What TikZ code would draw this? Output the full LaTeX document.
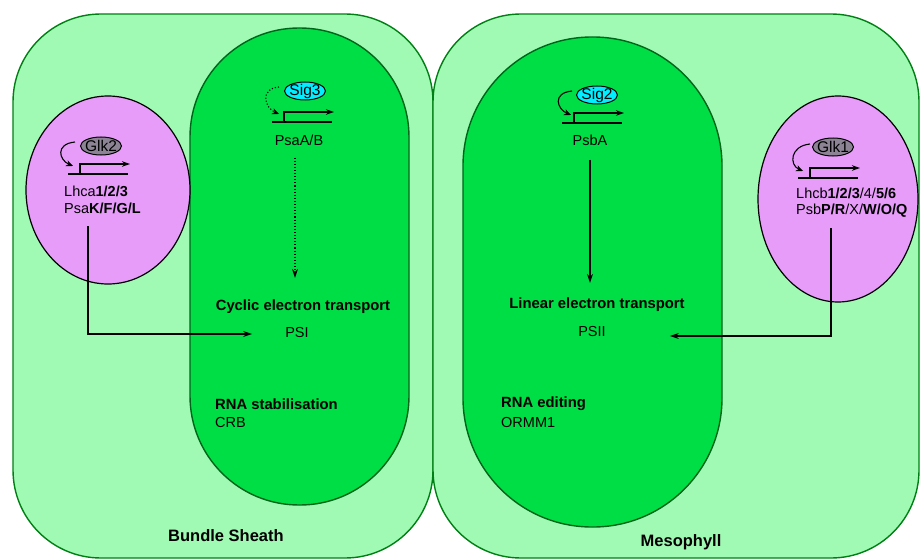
\documentclass[tikz,border=0pt]{standalone}
\usepackage{fontspec}
\setmainfont{Liberation Sans}
\usetikzlibrary{arrows.meta,calc,shapes.geometric}
\definecolor{cellfill}{RGB}{160,250,180}
\definecolor{cellline}{RGB}{0,128,20}
\definecolor{plfill}{RGB}{0,222,70}
\definecolor{plline}{RGB}{0,100,25}
\definecolor{nucfill}{RGB}{232,156,250}
\definecolor{glkfill}{RGB}{140,132,148}
\definecolor{sigfill}{RGB}{0,238,255}
\begin{document}
\begin{tikzpicture}[x=1pt,y=-1pt,
  cellbox/.style={draw=cellline,fill=cellfill,line width=1.4pt},
  plastid/.style={draw=plline,fill=plfill,line width=1.4pt},
  nucleus/.style={ellipse,draw=black,fill=nucfill,line width=1.2pt,inner sep=0pt},
  tf/.style={ellipse,draw=black,line width=1pt,inner sep=0pt,minimum width=41pt,minimum height=18pt,
             label={[font=\fontsize{15.5}{15}\selectfont,inner sep=0pt]center:#1}},
  txt/.style={inner sep=1pt,font=\fontsize{14.5}{16}\selectfont},
  btxt/.style={inner sep=1pt,font=\fontsize{14.8}{16}\selectfont\bfseries},
  ltxt/.style={inner sep=1pt,font=\fontsize{16.5}{18}\selectfont\bfseries},
  arr/.style={-{Stealth[length=9pt,width=6pt]},line width=1.1pt},
  carr/.style={-{Stealth[length=7pt,width=6pt]},line width=1.1pt},
  bent/.style={-{Stealth[length=8pt,width=5.5pt]},line width=1.3pt},
  baseline/.style={line width=1.6pt},
  promoter/.pic={\draw[baseline] (-12,0) -- (48,0); \draw[bent] (0,0) -- (0,-10) -- (50,-10);}
]
\useasboundingbox (0,0) rectangle (920,559);

% cells
\draw[cellbox,rounded corners=88pt] (13,14) rectangle (433,558);
\draw[cellbox,rounded corners=88pt] (433,14) rectangle (919,558);

% plastids
\draw[plastid,rounded corners=109pt] (190,28) rectangle (409,505);
\draw[plastid,rounded corners=129pt] (463,37) rectangle (722,527);

% nuclei
\node[nucleus,minimum width=164pt,minimum height=188pt] (nucL) at (108,190) {};
\node[nucleus,minimum width=160pt,minimum height=206pt] (nucR) at (838,199) {};

% transcription factors
\node[tf=Glk2,fill=glkfill] (glk2) at (101,146) {};
\node[tf=Sig3,fill=sigfill] (sig3) at (305,91) {};
\node[tf=Sig2,fill=sigfill] (sig2) at (597,95) {};
\node[tf=Glk1,fill=glkfill] (glk1) at (833,147) {};

% promoters
\coordinate (pg2) at (80,174);
\coordinate (ps3) at (284,122);
\coordinate (ps2) at (574,123);
\coordinate (pg1) at (810,178);
\pic at (pg2) {promoter};
\pic at (ps3) {promoter};
\pic at (ps2) {promoter};
\pic at (pg1) {promoter};

% autoregulation curves
\draw[carr] ($(glk2.west)+(-5,-4)$) .. controls +(-20,2) and +(-14,-6) .. ($(pg2)+(-7,-8)$);
\draw[carr,dotted] ($(sig3.west)+(-5,-4)$) .. controls +(-20,2) and +(-14,-6) .. ($(ps3)+(-5,-8)$);
\draw[carr] ($(sig2.west)+(-4,-4)$) .. controls +(-20,2) and +(-14,-6) .. ($(ps2)+(-3,-8)$);
\draw[carr] ($(glk1.west)+(-2,-3)$) .. controls +(-20,2) and +(-14,-6) .. ($(pg1)+(-7,-7)$);

% gene texts
\node[txt,anchor=west] (lhca) at (63,191) {Lhca\textbf{1/2/3}};
\node[txt,anchor=west] (psak) at (63,208) {Psa\textbf{K/F/G/L}};
\node[txt] (psaab) at (299,140) {PsaA/B};
\node[txt] (psba) at (590,140) {PsbA};
\node[txt,anchor=west] (lhcb) at (795,193) {Lhcb\textbf{1/2/3}/4/\textbf{5/6}};
\node[txt,anchor=west] (psbp) at (795,211) {Psb\textbf{P/R}/X/\textbf{W/O/Q}};

% processes
\node[btxt] (cyclic) at (303,307) {Cyclic electron transport};
\node[txt] (psi) at (297,333) {PSI};
\node[btxt] (linear) at (597,305) {Linear electron transport};
\node[txt] (psii) at (592,332) {PSII};
\node[btxt,anchor=west] (rnas) at (214,404) {RNA stabilisation};
\node[txt,anchor=west] (crb) at (214,423) {CRB};
\node[btxt,anchor=west] (rnae) at (500,404) {RNA editing};
\node[txt,anchor=west] (ormm) at (500,423) {ORMM1};

% cell labels
\node[ltxt] (bs) at (226,536) {Bundle Sheath};
\node[ltxt] (meso) at (681,542) {Mesophyll};

% connectors
\coordinate (gL) at (88,226);
\coordinate (gR) at (831,228);
\draw[arr] (gL) |- ($(psi.west)+(-32,1)$);
\draw[arr] (gR) |- ($(psii.east)+(63,4)$);
\draw[arr,dotted] ($(psaab.south)+(-4,11)$) -- ($(cyclic.north)+(-8,-21)$);
\draw[arr] ($(psba.south)+(0,13)$) -- ($(linear.north)+(-7,-14)$);
\end{tikzpicture}
\end{document}
